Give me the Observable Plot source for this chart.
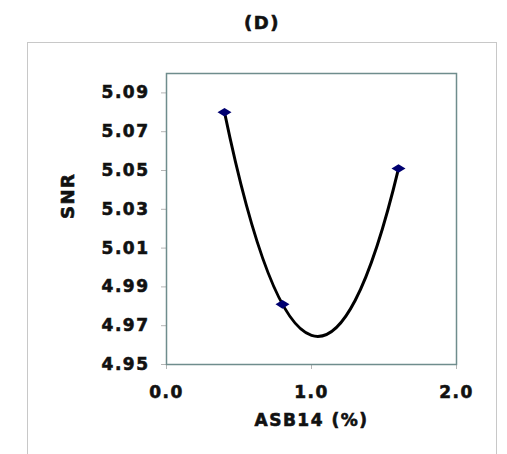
<!DOCTYPE html>
<html>
<head>
<meta charset="utf-8">
<script src="https://cdn.jsdelivr.net/npm/d3@7"></script>
<script src="https://cdn.jsdelivr.net/npm/@observablehq/plot@0.6"></script>
<style>
  html, body { margin: 0; padding: 0; background: #fff; }
  #title { position: absolute; left: 27px; top: 0; width: 470px; height: 42px; line-height: 46px;
           text-align: center; font-family: "DejaVu Sans"; font-weight: bold; font-size: 18px;
           letter-spacing: 1.5px; color: #111; -webkit-text-stroke: 0.6px #111; }
  #box { position: absolute; left: 27px; top: 42px; width: 468px; height: 420px;
         border: 1px solid #c8c8c8; border-bottom: none; overflow: hidden; }
  #box svg text { letter-spacing: 1.5px; stroke: #111; stroke-width: 0.6px; }
</style>
</head>
<body>
<div id="title">(D)</div>
<div id="box"></div>
<script>
// ---- data ----
const asb14 = [0.4, 0.8, 1.6];          // ASB14 (%)
const snr = [5.080, 4.981, 5.051];      // SNR
const xTicks = [0, 1, 2];
const yTicks = [4.95, 4.97, 4.99, 5.01, 5.03, 5.05, 5.07, 5.09];
const title = "(D)";
const xLabel = "ASB14 (%)";
const yLabel = "SNR";

const table = asb14.map((x, i) => ({x, y: snr[i]}));

// Excel-style 2nd order polynomial trendline, drawn as a custom curve:
// a least-squares parabola through the projected points, rendered as one quadratic Bézier.
function polyTrendCurve(context) {
  let pts;
  return {
    areaStart() {}, areaEnd() {},
    lineStart() { pts = []; },
    point(x, y) { pts.push([+x, +y]); },
    lineEnd() {
      const n = pts.length;
      if (n < 3) { pts.forEach(([x, y], i) => i ? context.lineTo(x, y) : context.moveTo(x, y)); return; }
      const x0 = pts[0][0];
      let S0 = 0, S1 = 0, S2 = 0, S3 = 0, S4 = 0, T0 = 0, T1 = 0, T2 = 0;
      for (const [px, py] of pts) {
        const u = px - x0;
        S0 += 1; S1 += u; S2 += u * u; S3 += u * u * u; S4 += u * u * u * u;
        T0 += py; T1 += u * py; T2 += u * u * py;
      }
      const det = (m) => m[0][0] * (m[1][1] * m[2][2] - m[1][2] * m[2][1])
                       - m[0][1] * (m[1][0] * m[2][2] - m[1][2] * m[2][0])
                       + m[0][2] * (m[1][0] * m[2][1] - m[1][1] * m[2][0]);
      const M = [[S4, S3, S2], [S3, S2, S1], [S2, S1, S0]];
      const D = det(M);
      const a = det([[T2, S3, S2], [T1, S2, S1], [T0, S1, S0]]) / D;
      const b = det([[S4, T2, S2], [S3, T1, S1], [S2, T0, S0]]) / D;
      const c = det([[S4, S3, T2], [S3, S2, T1], [S2, S1, T0]]) / D;
      const f = (u) => a * u * u + b * u + c;
      const U = pts[n - 1][0] - x0;
      context.moveTo(x0, f(0));
      context.quadraticCurveTo(x0 + U / 2, f(0) + b * U / 2, x0 + U, f(U));
    }
  };
}

// wide, flat diamond marker like the reference
const wideDiamond = {
  draw(context) {
    const w = 7, h = 4.3;
    context.moveTo(-w, 0); context.lineTo(0, -h); context.lineTo(w, 0); context.lineTo(0, h); context.closePath();
  }
};

const chart = Plot.plot({
  width: 468,
  height: 411,
  marginLeft: 138,
  marginRight: 40,
  marginTop: 30,
  marginBottom: 90,
  style: {fontFamily: "DejaVu Sans", fontSize: "17px", fontWeight: "bold", color: "#111", background: "#fff", overflow: "visible"},
  x: {domain: [0, 2]},
  y: {domain: [4.95, 5.10]},
  marks: [
    Plot.axisX({ticks: xTicks, tickFormat: d3.format(".1f"), tickSize: 5, tickPadding: 16, stroke: "#b5b5b5", label: null}),
    Plot.axisY({ticks: yTicks, tickFormat: d3.format(".2f"), tickSize: 5, tickPadding: 12, stroke: "#b5b5b5", label: null}),
    Plot.frame({stroke: "#6f8d8d", strokeWidth: 1.5}),
    Plot.line(table, {x: "x", y: "y", curve: polyTrendCurve, stroke: "#000", strokeWidth: 3}),
    Plot.dot(table, {x: "x", y: "y", symbol: wideDiamond, fill: "#000070", stroke: "none"}),
    Plot.text([xLabel], {frameAnchor: "bottom", dy: 61, fontSize: 17, fontWeight: "bold", fill: "#111"}),
    Plot.text([yLabel], {frameAnchor: "left", dx: -98, rotate: -90, fontSize: 18, fontWeight: "bold", fill: "#111"})
  ]
});
document.getElementById("box").appendChild(chart);
document.getElementById("title").textContent = title;
</script>
</body>
</html>
